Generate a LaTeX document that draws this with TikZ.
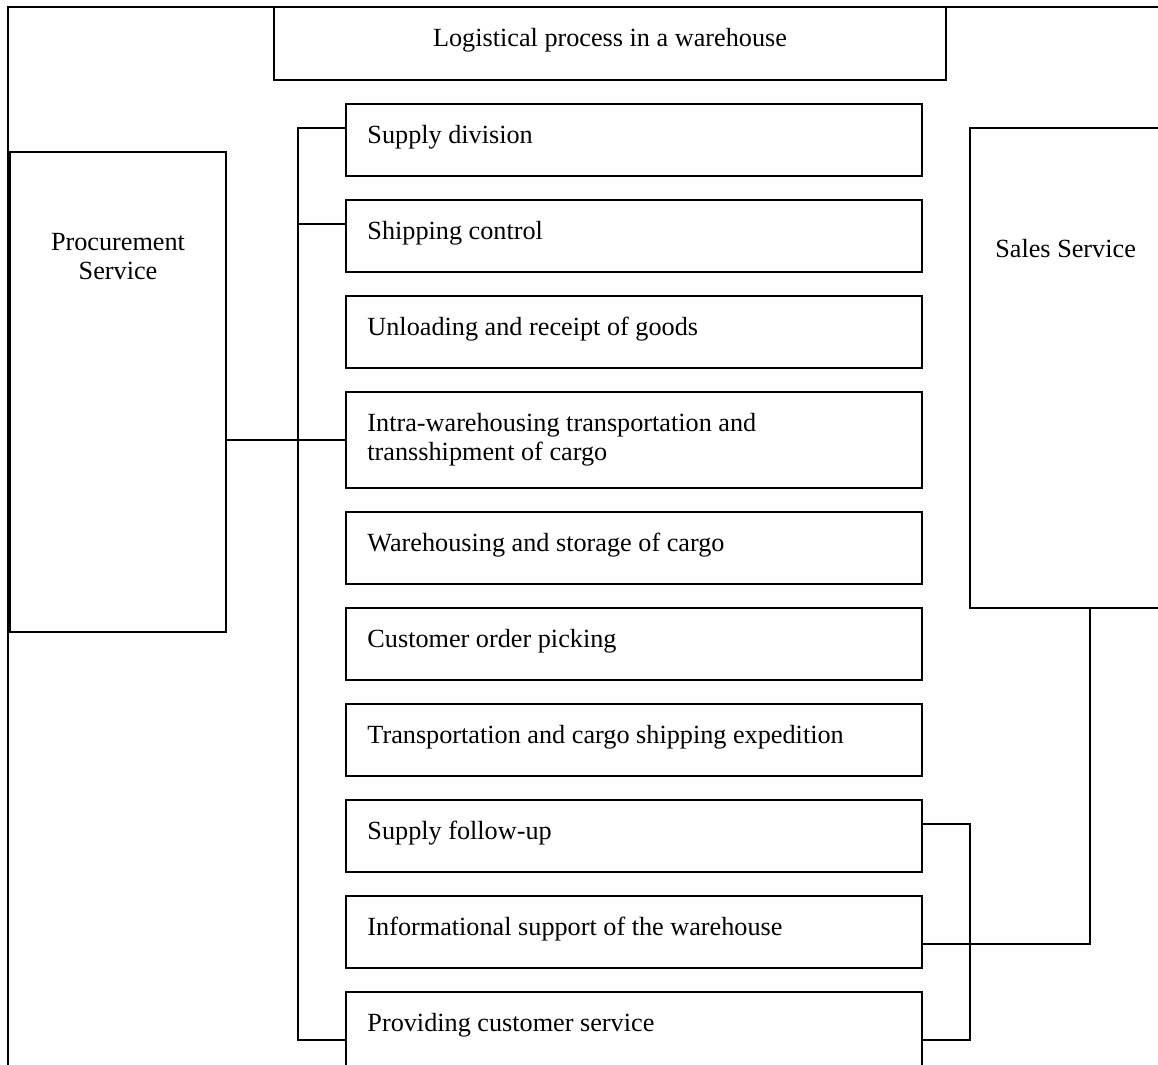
\documentclass[tikz,border=0pt]{standalone}
\usepackage{fontspec}
\setmainfont{Liberation Serif}
\usetikzlibrary{positioning,calc}
\tikzset{
  box/.style={draw,line width=0.8pt,inner sep=0pt,outer sep=0pt,anchor=north west},
  mid/.style={box,minimum width=259.2pt,minimum height=32.4pt},
  txt/.style={anchor=north west,inner xsep=9.45pt,inner ysep=9.4pt,align=left},
  link/.style={line width=0.8pt},
}

\begin{document}
\begin{tikzpicture}[x=0.45pt,y=-0.45pt,font=\fontsize{11.8pt}{13pt}\selectfont]
    \useasboundingbox (0,0) rectangle (1158,1064);
    \clip (0,0) rectangle (1158,1064);

    % outer frame
    \draw [link] (8,7) rectangle (1180,1090);

    \node [box,minimum width=302.4pt,minimum height=32.85pt,
      label={[txt,anchor=north,inner xsep=0pt]north:Logistical process in a warehouse}]
      (title) at (274,7) {};

    \node [box,minimum width=97.2pt,minimum height=216pt,
      label={[txt,anchor=north,align=center,inner ysep=36.4pt]north:Procurement\\Service}]
      (proc) at (10,152) {};
    \node [box,minimum width=90pt,minimum height=216pt,
      label={[txt,inner xsep=11.2pt,inner ysep=49.8pt]north west:Sales Service}]
      (sales) at (970,128) {};

    \node [mid,label={[txt]north west:Supply division}] (sd) at (346,104) {};
    \node [mid,label={[txt]north west:Shipping control}] (sc) at (346,200) {};
    \node [mid,label={[txt]north west:Unloading and receipt of goods}] (ur) at (346,296) {};
    \node [mid,minimum height=43.2pt,
      label={[txt]north west:Intra-warehousing transportation and\\transshipment of cargo}] (iw) at (346,392) {};
    \node [mid,label={[txt]north west:Warehousing and storage of cargo}] (ws) at (346,512) {};
    \node [mid,label={[txt]north west:Customer order picking}] (cp) at (346,608) {};
    \node [mid,label={[txt]north west:Transportation and cargo shipping expedition}] (tc) at (346,704) {};
    \node [mid,label={[txt]north west:Supply follow-up}] (sf) at (346,800) {};
    \node [mid,label={[txt]north west:Informational support of the warehouse}] (is) at (346,896) {};
    \node [mid,minimum height=43.2pt,label={[txt]north west:Providing customer service}] (pc) at (346,992) {};

    % left bracket
    \draw [link] ($(sd.north west)+(0,24)$) -- ++(-48,0) |- ($(pc.north west)+(0,48)$);
    \draw [link] ($(sc.north west)+(0,24)$) -- ++(-48,0);
    \draw [link] (proc.east |- iw.west) -- (iw.west);

    % right bracket
    \draw [link] ($(sf.north east)+(0,24)$) -- ++(48,0) |- ($(pc.north east)+(0,48)$);
    \draw [link] ($(is.north east)+(0,48)$) -| ($(sales.south west)+(120,0)$);
\end{tikzpicture}
\end{document}
